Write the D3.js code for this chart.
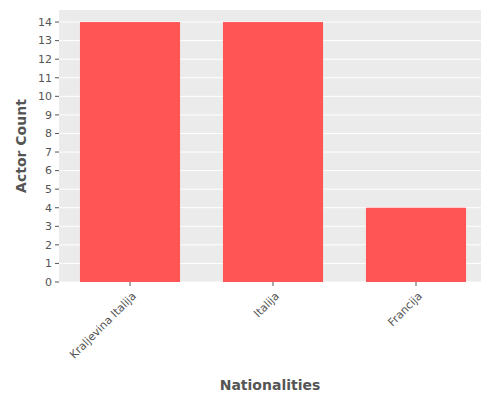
<!DOCTYPE html>
<html lang="en">
<head>
<meta charset="UTF-8">
<style>
  body { margin: 0; background: #fff; font-family: "DejaVu Sans", sans-serif; }
</style>
<script src="https://d3js.org/d3.v7.min.js"></script>
</head>
<body>
<svg id="chart" width="500" height="400"></svg>
<script>
const nationalities = ["Kraljevina Italija", "Italija", "Francija"];
const actorCounts = [14, 14, 4];
const yTicks = d3.range(0, 15);

const svg = d3.select("#chart");
const plotLeft = 59, plotRight = 481, plotTop = 10, plotBottom = 282;

const x = d3.scaleBand().domain(nationalities).range([58.5, 487.5]).paddingInner(0.3).paddingOuter(0.15);
const y = d3.scaleLinear().domain([0, 14.65]).range([plotBottom, plotTop]);

svg.append("rect").attr("x", plotLeft).attr("y", plotTop)
  .attr("width", plotRight - plotLeft).attr("height", plotBottom - plotTop).attr("fill", "#ebebeb");

// grid
svg.selectAll(".grid").data(yTicks).enter().append("line")
  .attr("x1", plotLeft).attr("x2", plotRight)
  .attr("y1", d => y(d)).attr("y2", d => y(d))
  .attr("stroke", "#fff").attr("stroke-width", 1);

svg.selectAll(".bar").data(actorCounts).enter().append("rect")
  .attr("x", (d, i) => x(nationalities[i]))
  .attr("width", x.bandwidth())
  .attr("y", d => y(d))
  .attr("height", d => plotBottom - y(d))
  .attr("fill", "#ff5555");

// y ticks
const yg = svg.append("g");
yTicks.forEach(t => {
  yg.append("line").attr("x1", plotLeft - 4).attr("x2", plotLeft).attr("y1", y(t)).attr("y2", y(t)).attr("stroke", "#555");
  yg.append("text").attr("x", plotLeft - 7).attr("y", y(t)).attr("dy", "0.35em")
    .attr("text-anchor", "end").attr("font-size", 11).attr("fill", "#555").text(t);
});

// x ticks
nationalities.forEach(n => {
  const cx = x(n) + x.bandwidth() / 2;
  svg.append("line").attr("x1", cx).attr("x2", cx).attr("y1", plotBottom).attr("y2", plotBottom + 4).attr("stroke", "#555");
  svg.append("text").attr("transform", `translate(${cx + 4},${plotBottom + 12}) rotate(-45)`)
    .attr("text-anchor", "end").attr("dy", "0.35em")
    .attr("font-size", 11).attr("fill", "#555").text(n);
});

svg.append("text").attr("x", (plotLeft + plotRight) / 2).attr("y", 390)
  .attr("text-anchor", "middle").attr("font-size", 14).attr("font-weight", "bold")
  .attr("fill", "#555").text("Nationalities");

svg.append("text").attr("transform", `translate(26,${(plotTop + plotBottom) / 2}) rotate(-90)`)
  .attr("text-anchor", "middle").attr("font-size", 14).attr("font-weight", "bold")
  .attr("fill", "#555").text("Actor Count");
</script>
</body>
</html>
